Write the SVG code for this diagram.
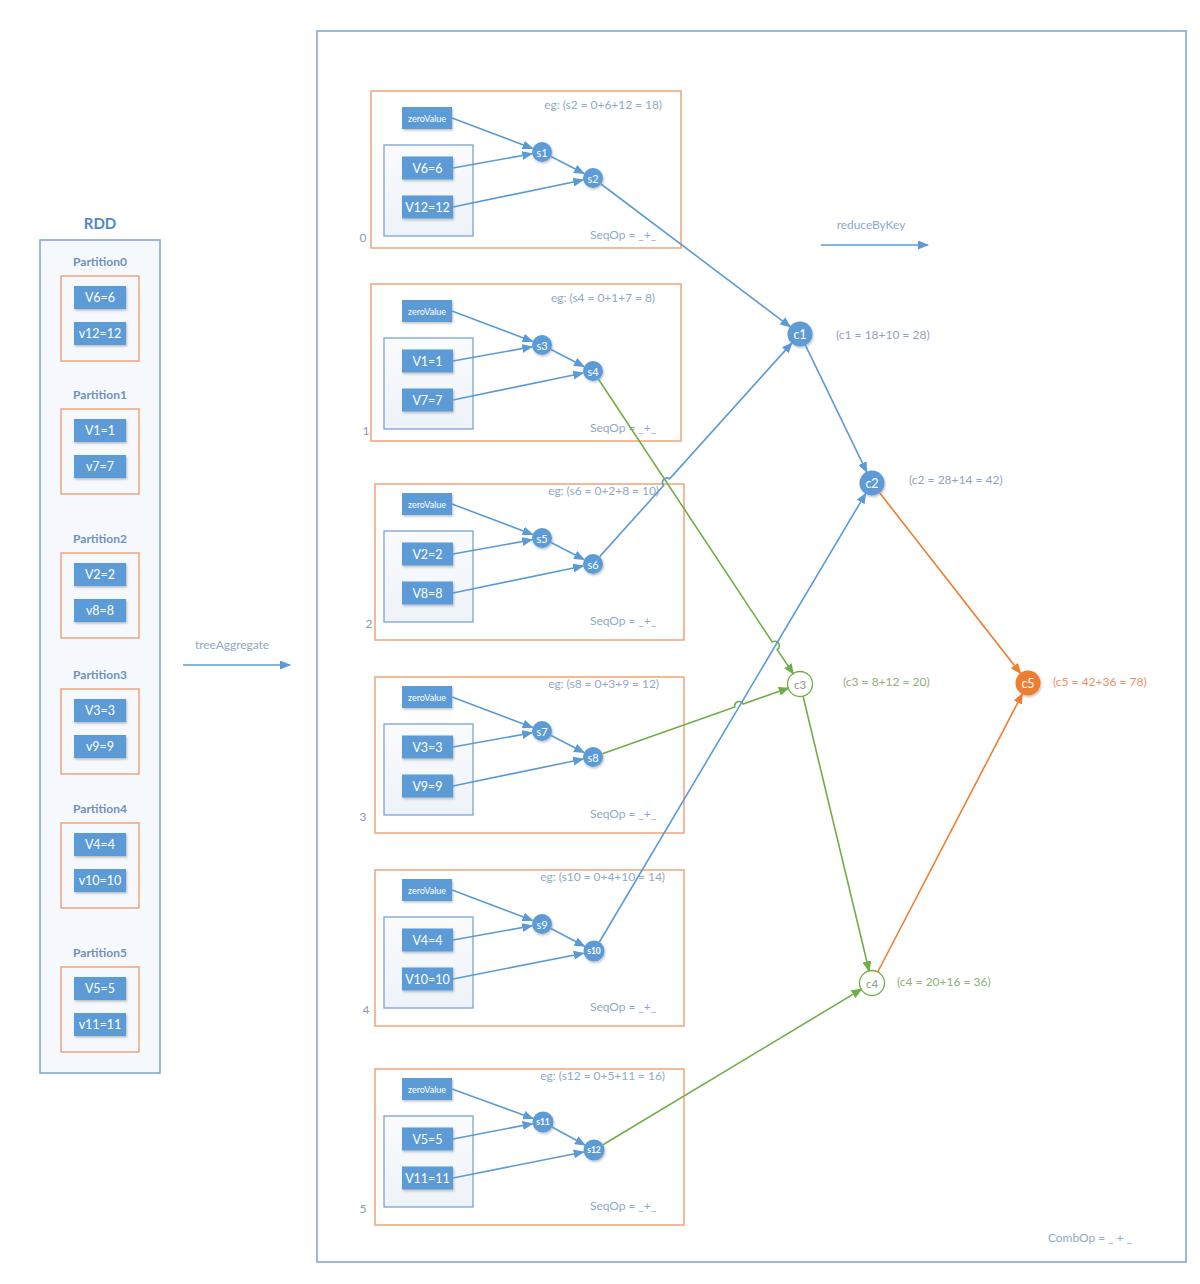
<svg xmlns="http://www.w3.org/2000/svg" width="1200" height="1284" viewBox="0 0 1200 1284">
<defs>
<marker id="ab" viewBox="0 0 11 9" refX="10" refY="4.5" markerWidth="11" markerHeight="9" markerUnits="userSpaceOnUse" orient="auto"><path d="M0,0 L11,4.5 L0,9 z" fill="#5b9bd5"/></marker>
<marker id="ag" viewBox="0 0 11 9" refX="10" refY="4.5" markerWidth="11" markerHeight="9" markerUnits="userSpaceOnUse" orient="auto"><path d="M0,0 L11,4.5 L0,9 z" fill="#70ad47"/></marker>
<marker id="ao" viewBox="0 0 11 9" refX="10" refY="4.5" markerWidth="11" markerHeight="9" markerUnits="userSpaceOnUse" orient="auto"><path d="M0,0 L11,4.5 L0,9 z" fill="#ed7d31"/></marker>
<filter id="sh" x="-20%" y="-20%" width="150%" height="160%"><feDropShadow dx="1" dy="1.5" stdDeviation="1" flood-color="#000" flood-opacity="0.25"/></filter>
<linearGradient id="gi" x1="0" y1="0" x2="0" y2="1"><stop offset="0" stop-color="#fafbfd"/><stop offset="1" stop-color="#eef3f9"/></linearGradient>
</defs>
<style>
text{font-family:Lato,"Open Sans","Liberation Sans",sans-serif}
.nr{fill:#5b9bd5;filter:url(#sh)}
.nt{fill:#fff;font-size:12.5px;text-anchor:middle;dominant-baseline:central}
.zt{fill:#fff;font-size:9px;text-anchor:middle;dominant-baseline:central}
.st{fill:#fff;font-size:11px;text-anchor:middle;dominant-baseline:central}
.st2{fill:#fff;font-size:8.5px;font-weight:bold;text-anchor:middle;dominant-baseline:central}
.sc{fill:#5b9bd5;filter:url(#sh)}
.ob{fill:none;stroke:#f0a47a;stroke-width:1.5}
.ib{fill:url(#gi);stroke:#7aa3d4;stroke-width:1.3}
.lb{fill:#8fa9c9;font-size:12px;letter-spacing:-0.05px}
.pl{fill:#6f90c0;font-size:12px;font-weight:bold;text-anchor:middle}
.num{fill:#8a9bb0;font-size:12px;text-anchor:middle}
.cb{fill:none;stroke:#5b9bd5;stroke-width:1.6}
.cg{fill:none;stroke:#70ad47;stroke-width:1.6}
.co{fill:none;stroke:#ed7d31;stroke-width:1.6}
</style>
<rect width="1200" height="1284" fill="#fff"/>

<!-- RDD -->
<g id="rdd">
<text x="100" y="229" fill="#4f88c6" font-size="15" font-weight="bold" text-anchor="middle">RDD</text>
<rect x="40" y="240" width="120" height="833" fill="#f5f8fc" stroke="#7aa3d4" stroke-width="1.5"/>
</g>
<g id="partition0"><text class="pl" x="100" y="266">Partition0</text><rect class="ob" x="61" y="276" width="78" height="85"/>
<g id="p0a"><rect class="nr" x="74" y="286" width="52" height="23"/><text class="nt" x="100" y="297.5">V6=6</text></g>
<g id="p0b"><rect class="nr" x="74" y="322" width="52" height="23"/><text class="nt" x="100" y="333.5">v12=12</text></g></g>
<g id="partition1"><text class="pl" x="100" y="399">Partition1</text><rect class="ob" x="61" y="409" width="78" height="85"/>
<g id="p1a"><rect class="nr" x="74" y="419" width="52" height="23"/><text class="nt" x="100" y="430.5">V1=1</text></g>
<g id="p1b"><rect class="nr" x="74" y="455" width="52" height="23"/><text class="nt" x="100" y="466.5">v7=7</text></g></g>
<g id="partition2"><text class="pl" x="100" y="543">Partition2</text><rect class="ob" x="61" y="553" width="78" height="85"/>
<g id="p2a"><rect class="nr" x="74" y="563" width="52" height="23"/><text class="nt" x="100" y="574.5">V2=2</text></g>
<g id="p2b"><rect class="nr" x="74" y="599" width="52" height="23"/><text class="nt" x="100" y="610.5">v8=8</text></g></g>
<g id="partition3"><text class="pl" x="100" y="679">Partition3</text><rect class="ob" x="61" y="689" width="78" height="85"/>
<g id="p3a"><rect class="nr" x="74" y="699" width="52" height="23"/><text class="nt" x="100" y="710.5">V3=3</text></g>
<g id="p3b"><rect class="nr" x="74" y="735" width="52" height="23"/><text class="nt" x="100" y="746.5">v9=9</text></g></g>
<g id="partition4"><text class="pl" x="100" y="813">Partition4</text><rect class="ob" x="61" y="823" width="78" height="85"/>
<g id="p4a"><rect class="nr" x="74" y="833" width="52" height="23"/><text class="nt" x="100" y="844.5">V4=4</text></g>
<g id="p4b"><rect class="nr" x="74" y="869" width="52" height="23"/><text class="nt" x="100" y="880.5">v10=10</text></g></g>
<g id="partition5"><text class="pl" x="100" y="957">Partition5</text><rect class="ob" x="61" y="967" width="78" height="85"/>
<g id="p5a"><rect class="nr" x="74" y="977" width="52" height="23"/><text class="nt" x="100" y="988.5">V5=5</text></g>
<g id="p5b"><rect class="nr" x="74" y="1013" width="52" height="23"/><text class="nt" x="100" y="1024.5">v11=11</text></g></g>

<!-- main frame -->
<g id="frame">
<rect x="317" y="31" width="869" height="1231" fill="#fff" stroke="#7ba3d2" stroke-width="1.5"/>
<text class="lb" x="1090" y="1242" text-anchor="middle" fill="#9aa8bc">CombOp = _ + _</text>
</g>
<g id="treeAggregate"><text class="lb" x="232" y="649" text-anchor="middle">treeAggregate</text></g>
<g id="reduceByKey"><text class="lb" x="871" y="229" text-anchor="middle">reduceByKey</text></g>

<!-- block 0 -->
<g id="block0">
<rect class="ob" x="371" y="91" width="310" height="157"/>
<text class="num" x="363" y="242">0</text>
<text class="lb" x="662" y="109" text-anchor="end">eg: (s2 = 0+6+12 = 18)</text>
<text class="lb" x="590" y="239">SeqOp = _+_</text>
<rect class="ib" x="384" y="145" width="89" height="91"/>
<g id="zv0"><rect class="nr" x="402" y="107" width="50" height="22"/><text class="zt" x="427" y="118">zeroValue</text></g>
<g id="v6"><rect class="nr" x="402" y="156.5" width="51" height="23"/><text class="nt" x="427.5" y="168">V6=6</text></g>
<g id="v12"><rect class="nr" x="402" y="195.5" width="51" height="23"/><text class="nt" x="427.5" y="207">V12=12</text></g>
<g id="s1"><circle class="sc" cx="542" cy="152" r="10"/><text class="st" x="542" y="152">s1</text></g>
<g id="s2"><circle class="sc" cx="593" cy="178" r="10"/><text class="st" x="593" y="178">s2</text></g>
</g>
<!-- block 1 -->
<g id="block1">
<rect class="ob" x="371" y="284" width="310" height="157"/>
<text class="num" x="366" y="435">1</text>
<text class="lb" x="655" y="302" text-anchor="end">eg: (s4 = 0+1+7 = 8)</text>
<text class="lb" x="590" y="432">SeqOp = _+_</text>
<rect class="ib" x="384" y="338" width="89" height="91"/>
<g id="zv1"><rect class="nr" x="402" y="300" width="50" height="22"/><text class="zt" x="427" y="311">zeroValue</text></g>
<g id="v1"><rect class="nr" x="402" y="349.5" width="51" height="23"/><text class="nt" x="427.5" y="361">V1=1</text></g>
<g id="v7"><rect class="nr" x="402" y="388.5" width="51" height="23"/><text class="nt" x="427.5" y="400">V7=7</text></g>
<g id="s3"><circle class="sc" cx="542" cy="345" r="10"/><text class="st" x="542" y="345">s3</text></g>
<g id="s4"><circle class="sc" cx="593" cy="371" r="10"/><text class="st" x="593" y="371">s4</text></g>
</g>
<!-- block 2 -->
<g id="block2">
<rect class="ob" x="375" y="484" width="309" height="156"/>
<text class="num" x="369" y="628">2</text>
<text class="lb" x="659" y="495" text-anchor="end">eg: (s6 = 0+2+8 = 10)</text>
<text class="lb" x="590" y="625">SeqOp = _+_</text>
<rect class="ib" x="384" y="531" width="89" height="91"/>
<g id="zv2"><rect class="nr" x="402" y="493" width="50" height="22"/><text class="zt" x="427" y="504">zeroValue</text></g>
<g id="v2"><rect class="nr" x="402" y="542.5" width="51" height="23"/><text class="nt" x="427.5" y="554">V2=2</text></g>
<g id="v8"><rect class="nr" x="402" y="581.5" width="51" height="23"/><text class="nt" x="427.5" y="593">V8=8</text></g>
<g id="s5"><circle class="sc" cx="542" cy="538" r="10"/><text class="st" x="542" y="538">s5</text></g>
<g id="s6"><circle class="sc" cx="593" cy="564" r="10"/><text class="st" x="593" y="564">s6</text></g>
</g>
<!-- block 3 -->
<g id="block3">
<rect class="ob" x="375" y="677" width="309" height="156"/>
<text class="num" x="363" y="821">3</text>
<text class="lb" x="659" y="688" text-anchor="end">eg: (s8 = 0+3+9 = 12)</text>
<text class="lb" x="590" y="818">SeqOp = _+_</text>
<rect class="ib" x="384" y="724" width="89" height="91"/>
<g id="zv3"><rect class="nr" x="402" y="686" width="50" height="22"/><text class="zt" x="427" y="697">zeroValue</text></g>
<g id="v3"><rect class="nr" x="402" y="735.5" width="51" height="23"/><text class="nt" x="427.5" y="747">V3=3</text></g>
<g id="v9"><rect class="nr" x="402" y="774.5" width="51" height="23"/><text class="nt" x="427.5" y="786">V9=9</text></g>
<g id="s7"><circle class="sc" cx="542" cy="731" r="10"/><text class="st" x="542" y="731">s7</text></g>
<g id="s8"><circle class="sc" cx="593" cy="757" r="10"/><text class="st" x="593" y="757">s8</text></g>
</g>
<!-- block 4 -->
<g id="block4">
<rect class="ob" x="375" y="870" width="309" height="156"/>
<text class="num" x="366" y="1014">4</text>
<text class="lb" x="665" y="881" text-anchor="end">eg: (s10 = 0+4+10 = 14)</text>
<text class="lb" x="590" y="1011">SeqOp = _+_</text>
<rect class="ib" x="384" y="917" width="89" height="91"/>
<g id="zv4"><rect class="nr" x="402" y="879" width="50" height="22"/><text class="zt" x="427" y="890">zeroValue</text></g>
<g id="v4"><rect class="nr" x="402" y="928.5" width="51" height="23"/><text class="nt" x="427.5" y="940">V4=4</text></g>
<g id="v10"><rect class="nr" x="402" y="967.5" width="51" height="23"/><text class="nt" x="427.5" y="979">V10=10</text></g>
<g id="s9"><circle class="sc" cx="542" cy="924" r="10"/><text class="st" x="542" y="924">s9</text></g>
<g id="s10"><circle class="sc" cx="594" cy="951" r="10.5"/><text class="st2" x="594" y="951">s10</text></g>
</g>
<!-- block 5 -->
<g id="block5">
<rect class="ob" x="375" y="1069" width="309" height="156"/>
<text class="num" x="363" y="1213">5</text>
<text class="lb" x="665" y="1080" text-anchor="end">eg: (s12 = 0+5+11 = 16)</text>
<text class="lb" x="590" y="1210">SeqOp = _+_</text>
<rect class="ib" x="384" y="1116" width="89" height="91"/>
<g id="zv5"><rect class="nr" x="402" y="1078" width="50" height="22"/><text class="zt" x="427" y="1089">zeroValue</text></g>
<g id="v5"><rect class="nr" x="402" y="1127.5" width="51" height="23"/><text class="nt" x="427.5" y="1139">V5=5</text></g>
<g id="v11"><rect class="nr" x="402" y="1166.5" width="51" height="23"/><text class="nt" x="427.5" y="1178">V11=11</text></g>
<g id="s11"><circle class="sc" cx="543" cy="1122" r="10.5"/><text class="st2" x="543" y="1122">s11</text></g>
<g id="s12"><circle class="sc" cx="594" cy="1150" r="10.5"/><text class="st2" x="594" y="1150">s12</text></g>
</g>

<!-- combine nodes -->
<g id="c1"><circle class="sc" cx="800" cy="334" r="12.5"/><text class="nt" x="800" y="334" font-size="11.5">c1</text><text x="836" y="339" fill="#8fa3c0" font-size="12">(c1 = 18+10 = 28)</text></g>
<g id="c2"><circle class="sc" cx="872" cy="483" r="12.5"/><text class="nt" x="872" y="483" font-size="11.5">c2</text><text x="909" y="484" fill="#8fa3c0" font-size="12">(c2 = 28+14 = 42)</text></g>
<g id="c3"><circle cx="800" cy="684" r="12.5" fill="#fff" stroke="#70ad47" stroke-width="1.3"/><text x="800" y="684" fill="#8a9a80" font-size="11.5" text-anchor="middle" dominant-baseline="central">c3</text><text x="843" y="686" fill="#8fae7a" font-size="12">(c3 = 8+12 = 20)</text></g>
<g id="c4"><circle cx="872" cy="983" r="12.5" fill="#fff" stroke="#70ad47" stroke-width="1.3"/><text x="872" y="983" fill="#8a9a80" font-size="11.5" text-anchor="middle" dominant-baseline="central">c4</text><text x="897" y="986" fill="#8fae7a" font-size="12">(c4 = 20+16 = 36)</text></g>
<g id="c5"><circle cx="1028" cy="683" r="12.5" fill="#ed7d31" filter="url(#sh)"/><text class="nt" x="1028" y="683" font-size="11.5">c5</text><text x="1053" y="686" fill="#ee8f6a" font-size="12">(c5 = 42+36 = 78)</text></g>

<!-- connectors -->
<g id="connectors">
<path class="cb" d="M183,665 L290,665" marker-end="url(#ab)"/>
<path class="cb" d="M821,245 L928,245" marker-end="url(#ab)"/>
<!-- block internals -->
<path class="cb" d="M452,118 L532.6,148.5" marker-end="url(#ab)"/>
<path class="cb" d="M453,168 L532.2,153.8" marker-end="url(#ab)"/>
<path class="cb" d="M551,156.5 L584.1,173.5" marker-end="url(#ab)"/>
<path class="cb" d="M453,207 L583.2,180" marker-end="url(#ab)"/>

<path class="cb" d="M452,311 L532.6,341.5" marker-end="url(#ab)"/>
<path class="cb" d="M453,361 L532.2,346.8" marker-end="url(#ab)"/>
<path class="cb" d="M551,349.5 L584.1,366.5" marker-end="url(#ab)"/>
<path class="cb" d="M453,400 L583.2,373" marker-end="url(#ab)"/>

<path class="cb" d="M452,504 L532.6,534.5" marker-end="url(#ab)"/>
<path class="cb" d="M453,554 L532.2,539.8" marker-end="url(#ab)"/>
<path class="cb" d="M551,542.5 L584.1,559.5" marker-end="url(#ab)"/>
<path class="cb" d="M453,593 L583.2,566" marker-end="url(#ab)"/>

<path class="cb" d="M452,697 L532.6,727.5" marker-end="url(#ab)"/>
<path class="cb" d="M453,747 L532.2,732.8" marker-end="url(#ab)"/>
<path class="cb" d="M551,735.5 L584.1,752.5" marker-end="url(#ab)"/>
<path class="cb" d="M453,786 L583.2,759" marker-end="url(#ab)"/>

<path class="cb" d="M452,890 L532.6,920.5" marker-end="url(#ab)"/>
<path class="cb" d="M453,940 L532.2,925.8" marker-end="url(#ab)"/>
<path class="cb" d="M551,928.5 L584.6,946.3" marker-end="url(#ab)"/>
<path class="cb" d="M453,979 L583.7,953.2" marker-end="url(#ab)"/>

<path class="cb" d="M452,1089 L533.2,1118.6" marker-end="url(#ab)"/>
<path class="cb" d="M453,1139 L532.6,1123.6" marker-end="url(#ab)"/>
<path class="cb" d="M552,1127 L585,1145" marker-end="url(#ab)"/>
<path class="cb" d="M453,1178 L583.7,1152" marker-end="url(#ab)"/>

<!-- to combiners -->
<path class="cb" d="M601,184 L790.4,326.8" marker-end="url(#ab)"/>
<path class="cb" d="M599.7,556.6 L663.6,485.5 A4.5,4.5 0 0 1 669.6,478.9 L792,342.9" marker-end="url(#ab)"/>
<path class="cg" d="M598.5,379.3 L772.2,642 A4.5,4.5 0 0 1 777.2,649.6 L793.4,674" marker-end="url(#ag)"/>
<path class="cg" d="M602.4,753.7 L734.8,707 A4.5,4.5 0 0 1 743.2,704 L788.7,688" marker-end="url(#ag)"/>
<path class="cb" d="M599.4,942 L865.8,493.3" marker-end="url(#ab)"/>
<path class="cg" d="M603,1144.7 L861.7,989.1" marker-end="url(#ag)"/>
<path class="cb" d="M805.4,345.2 L866.8,472.2" marker-end="url(#ab)"/>
<path class="cg" d="M803,696 L869.2,971.3" marker-end="url(#ag)"/>
<path class="co" d="M879.6,492.8 L1020.6,673.5" marker-end="url(#ao)"/>
<path class="co" d="M877.7,972 L1022.5,693.6" marker-end="url(#ao)"/>
</g>
</svg>
